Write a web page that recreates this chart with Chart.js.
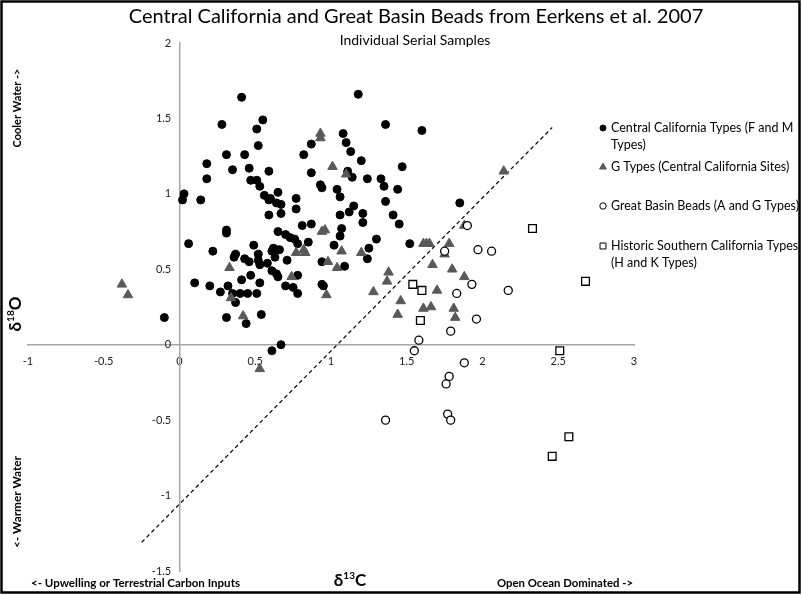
<!DOCTYPE html>
<html>
<head>
<meta charset="utf-8">
<script src="https://cdn.jsdelivr.net/npm/chart.js@4/dist/chart.umd.min.js"></script>
<style>
  html, body { margin: 0; padding: 0; background: #fff; }
  canvas { display: block; }
</style>
</head>
<body>
<canvas id="chart" width="802" height="595"></canvas>
<script>
// ---- data: [delta13C, delta18O] per serial sample ----
const centralCaliforniaTypes = [
  [0.41,1.64],[1.18,1.66],[0.28,1.46],[0.55,1.49],[0.51,1.43],[1.08,1.40],[1.10,1.34],[0.87,1.33],
  [0.52,1.32],[1.13,1.28],[0.82,1.26],[0.31,1.26],[0.43,1.26],[0.18,1.20],[1.20,1.22],[0.35,1.16],
  [0.46,1.17],[0.59,1.15],[0.87,1.14],[1.11,1.15],[1.14,1.11],[0.18,1.10],[0.47,1.09],[0.51,1.09],
  [1.24,1.10],[0.53,1.05],[0.93,1.06],[0.94,1.04],[0.03,1.00],[0.02,0.96],[0.14,0.96],[0.65,1.01],
  [1.04,1.03],[0.56,0.99],[1.06,0.98],[0.77,0.97],[0.59,0.96],[0.60,0.97],[0.64,0.94],[0.67,0.93],
  [0.77,0.90],[1.15,0.92],[1.12,0.88],[0.59,0.86],[0.67,0.87],[1.06,0.86],[1.21,0.87],[1.21,0.81],
  [0.81,0.79],[0.87,0.80],[0.31,0.76],[0.31,0.74],[0.65,0.75],[1.07,0.77],[0.70,0.73],[0.73,0.71],
  [0.76,0.70],[1.06,0.72],[0.06,0.67],[0.78,0.67],[0.85,0.68],[1.02,0.66],[0.49,0.66],[0.62,0.64],
  [0.64,0.63],[0.66,0.63],[0.61,0.62],[0.22,0.62],[1.25,0.64],[0.37,0.60],[0.36,0.58],[0.52,0.60],
  [0.43,0.57],[0.46,0.55],[0.52,0.56],[0.53,0.53],[0.58,0.54],[0.63,0.58],[0.71,0.56],[0.94,0.55],
  [1.09,0.52],[0.61,0.49],[0.64,0.47],[0.65,0.45],[0.47,0.46],[0.78,0.46],[0.41,0.43],[0.10,0.41],
  [0.53,0.41],[0.94,0.40],[0.95,0.39],[0.20,0.39],[0.32,0.39],[0.70,0.39],[0.75,0.38],[0.27,0.35],
  [0.35,0.34],[0.40,0.34],[0.45,0.34],[0.51,0.34],[0.78,0.34],[0.37,0.28],[0.31,0.18],[0.54,0.20],
  [0.44,0.14],[0.67,0.00],[0.61,-0.04],[-0.10,0.18],[1.36,1.46],[1.60,1.42],[1.47,1.18],[1.33,1.10],
  [1.35,1.05],[1.44,1.03],[1.36,0.95],[1.41,0.86],[1.45,0.80],[1.85,0.94],[1.30,0.70],[1.24,0.57],
  [1.52,0.67]
];
const gTypes = [
  [-0.38,0.40],[-0.34,0.33],[0.93,1.40],[0.93,1.37],[1.01,1.18],[1.10,1.13],[0.94,0.75],[0.96,0.76],
  [0.77,0.61],[0.82,0.63],[0.83,0.61],[1.07,0.62],[1.20,0.61],[0.98,0.55],[1.04,0.51],[0.33,0.51],
  [0.74,0.45],[0.34,0.31],[0.97,0.33],[0.42,0.19],[0.53,-0.16],[2.14,1.15],[1.88,0.79],[1.61,0.67],
  [1.63,0.67],[1.65,0.67],[1.78,0.67],[1.75,0.60],[1.67,0.53],[1.80,0.50],[1.88,0.45],[1.38,0.48],
  [1.37,0.42],[1.28,0.35],[1.70,0.36],[1.46,0.29],[1.61,0.24],[1.66,0.25],[1.81,0.24],[1.44,0.20],
  [1.82,0.18]
];
const greatBasinBeads = [
  [1.90,0.79],[1.75,0.62],[1.97,0.63],[2.06,0.62],[1.93,0.40],[1.83,0.34],[2.17,0.36],[1.96,0.17],
  [1.79,0.09],[1.58,0.03],[1.55,-0.04],[1.88,-0.12],[1.78,-0.21],[1.76,-0.26],[1.77,-0.46],[1.79,-0.50],
  [1.36,-0.50]
];
const historicSouthernCalifornia = [
  [2.33,0.77],[2.68,0.42],[1.54,0.40],[1.60,0.36],[1.59,0.16],[2.51,-0.04],[2.57,-0.61],[2.46,-0.74]
];
// dashed reference line end points
const referenceLine = [[-0.25,-1.31],[2.46,1.44]];

const legendLabels = [
  ['Central California Types (F and M', 'Types)'],
  ['G Types (Central California Sites)'],
  ['Great Basin Beads (A and G Types)'],
  ['Historic Southern California Types', '(H and K Types)']
];
const xTickValues = [-1, -0.5, 0, 0.5, 1, 1.5, 2, 2.5, 3];
const yTickValues = [-1.5, -1, -0.5, 0, 0.5, 1, 1.5, 2];

const titleText = 'Central California and Great Basin Beads from Eerkens et al. 2007';
const subtitleText = 'Individual Serial Samples';

// ---- chart ----
const FONT = 'Lato, "Open Sans", sans-serif';
Chart.defaults.font.family = FONT;
const toPts = arr => arr.map(([x, y]) => ({ x, y }));

const datasets = [
  { label: legendLabels[0].join(' '), data: toPts(centralCaliforniaTypes), pointStyle: 'circle',
    pointRadius: 4, backgroundColor: '#000', borderColor: '#000', borderWidth: 1, order: 3 },
  { label: legendLabels[1].join(' '), data: toPts(gTypes), pointStyle: 'triangle',
    pointRadius: 5.5, backgroundColor: '#595959', borderColor: '#595959', borderWidth: 1, order: 2 },
  { label: legendLabels[2].join(' '), data: toPts(greatBasinBeads), pointStyle: 'circle',
    pointRadius: 4, backgroundColor: '#fff', borderColor: '#000', borderWidth: 1.3, order: 1 },
  { label: legendLabels[3].join(' '), data: toPts(historicSouthernCalifornia), pointStyle: 'rect',
    pointRadius: 5.5, backgroundColor: '#fff', borderColor: '#000', borderWidth: 1.3, order: 0 },
  { type: 'line', label: 'reference', data: toPts(referenceLine), showLine: true, pointRadius: 0,
    borderColor: '#000', borderWidth: 1.2, borderDash: [4, 3], fill: false, order: 4 }
];

function rotatedText(ctx, text, cx, cy, font, maxW) {
  ctx.save();
  ctx.translate(cx, cy);
  ctx.rotate(-Math.PI / 2);
  ctx.font = font;
  ctx.textAlign = 'center';
  ctx.textBaseline = 'middle';
  ctx.fillText(text, 0, 0, maxW);
  ctx.restore();
}

// delta symbol with superscript mass number, e.g. δ18O
function isotopeLabel(ctx, pre, sup, post, cx, cy, rotate) {
  ctx.save();
  ctx.translate(cx, cy);
  if (rotate) ctx.rotate(-Math.PI / 2);
  const big = 'bold 17px ' + FONT, small = 'bold 10px ' + FONT;
  ctx.font = big; const w1 = ctx.measureText(pre).width; const w3 = ctx.measureText(post).width;
  ctx.font = small; const w2 = ctx.measureText(sup).width;
  let x = -(w1 + w2 + w3) / 2;
  ctx.textBaseline = 'alphabetic'; ctx.textAlign = 'left';
  ctx.font = big; ctx.fillText(pre, x, 6); x += w1;
  ctx.font = small; ctx.fillText(sup, x, -1); x += w2;
  ctx.font = big; ctx.fillText(post, x, 6);
  ctx.restore();
}

const decorations = {
  id: 'decorations',
  afterDraw(chart) {
    const ctx = chart.ctx;
    ctx.save();
    ctx.fillStyle = '#000';
    // titles
    ctx.textAlign = 'center';
    ctx.textBaseline = 'middle';
    ctx.font = '20px ' + FONT;
    ctx.fillText(titleText, 416, 17, 590);
    ctx.font = '14px ' + FONT;
    ctx.fillText(subtitleText, 415, 40, 178);

    // axis captions
    rotatedText(ctx, 'Cooler Water ->', 17, 108, 'bold 12px ' + FONT, 79);
    rotatedText(ctx, '<- Warmer Water', 17, 502, 'bold 12px ' + FONT, 92);
    isotopeLabel(ctx, 'δ', '18', 'O', 15, 314, true);
    isotopeLabel(ctx, 'δ', '13', 'C', 350, 580, false);
    ctx.font = 'bold 12px ' + FONT;
    ctx.textAlign = 'left';
    ctx.textBaseline = 'middle';
    ctx.fillText('<- Upwelling or Terrestrial Carbon Inputs', 31, 583, 209);
    ctx.fillText('Open Ocean Dominated ->', 497, 583, 136);

    // legend
    const rows = [128, 167, 206, 246];
    const legendRadius = [3, 4, 3.2, 4.2];
    ctx.font = '12.5px ' + FONT;
    legendLabels.forEach((lines, i) => {
      const ds = chart.data.datasets[i];
      ctx.fillStyle = ds.backgroundColor;
      ctx.strokeStyle = ds.borderColor;
      ctx.lineWidth = 1;
      Chart.helpers.drawPoint(ctx, { pointStyle: ds.pointStyle, radius: legendRadius[i], borderWidth: 1 }, 603, rows[i]);
      ctx.fillStyle = '#000';
      ctx.textAlign = 'left';
      ctx.textBaseline = 'middle';
      lines.forEach((line, j) => ctx.fillText(line, 611, rows[i] + j * 17, 188));
    });

    // outer frame
    ctx.strokeStyle = '#000';
    ctx.lineWidth = 2.5;
    ctx.strokeRect(1.5, 1.5, 798, 591);
    ctx.restore();
  }
};

new Chart(document.getElementById('chart'), {
  type: 'scatter',
  data: { datasets },
  options: {
    responsive: false,
    animation: false,
    events: [],
    layout: { padding: { left: 28, right: 168, top: 43, bottom: 24 } },
    plugins: { legend: { display: false }, tooltip: { enabled: false }, title: { display: false } },
    scales: {
      x: {
        type: 'linear', position: { y: 0 }, min: -1, max: 3,
        afterBuildTicks: s => { s.ticks = xTickValues.map(v => ({ value: v })); },
        grid: { drawOnChartArea: false, drawTicks: false },
        border: { display: true, color: '#a6a6a6', width: 1.5 },
        ticks: { padding: 10, color: '#222', font: { size: 11 }, maxRotation: 0, autoSkip: false,
                 callback: v => String(v) }
      },
      y: {
        type: 'linear', position: { x: 0 }, min: -1.5, max: 2,
        afterBuildTicks: s => { s.ticks = yTickValues.map(v => ({ value: v })); },
        grid: { drawOnChartArea: false, drawTicks: false },
        border: { display: true, color: '#a6a6a6', width: 1.5 },
        // the labels sit an em to the left of the vertical axis line
        ticks: { padding: 10, color: '#222', font: { size: 11 }, autoSkip: false,
                 callback: v => String(v) + '\u2003' }
      }
    }
  },
  plugins: [decorations]
});
</script>
</body>
</html>
